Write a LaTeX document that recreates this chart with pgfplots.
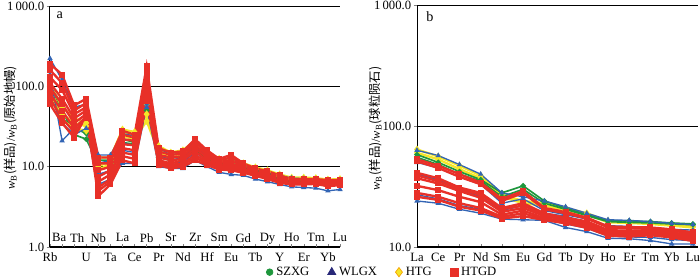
\documentclass[border=0pt]{standalone}
\usepackage{pgfplots}
\usepackage{pgfplotstable}
\pgfplotsset{compat=1.18}
\usepackage{fontspec}
\setmainfont{Liberation Serif}
\newfontfamily\cjk{Noto Sans CJK SC}
\definecolor{szxg}{RGB}{30,150,60}
\definecolor{wlgx}{RGB}{50,100,180}
\definecolor{navy}{RGB}{40,40,120}
\definecolor{htg}{RGB}{245,230,40}
\definecolor{htgedge}{RGB}{245,160,0}
\definecolor{htgd}{RGB}{232,48,40}

\pgfplotstableread{
x R1 R2 R3 R4 R5 R6 R7 R8 B1 B2 B3 B4 G1 G2 Y1 Y2 Y3
0 190 160 130 110 95 80 70 60 222 140 100 75 85 100 110 90 75
1 140 110 90 70 60 50 40 35 120 21 60 35 40 50 55 45 38
2 58 50 45 40 35 30 27 23 55 30 35 25 30 25 40 35 30
3 70 62 55 50 45 42 40 43 60 40 45 30 26 22 35 32 28
4 13 11 9 7.5 6.5 5.5 5 4.3 14 11 8 6 12 11 13 10 9
5 13 11 10 9 8 7 6.5 6 14 12 9 7 12 11 13 12 11
6 28 25 22 19 17 15 13.5 12 26 20 16 11 22 20 29 26 24
7 25 23 21 18.5 16 14 12.5 11 24 18 15 11 20 19 27 24 22
8 177 150 130 110 95 85 75 65 75 60 70 55 60 50 60 45 37
9 17 15.5 14 13 12 11.5 11 10.5 17 14 12 10 14 13 18 16 15
10 15 14 13 12 11 10.5 10 9.5 14 12 11 9.5 13 12 15 14 13
11 15.5 14.5 13.5 12.5 12 11 10.5 10 15 13 11.5 9.5 13 12.5 16 15 14
12 22 20 18.5 17 15.5 14 13 12 21 18 15 12 17 16 21 19 18
13 16 15 14 13 12 11.5 11 10.5 15 13.5 12 10 13 12.5 15.5 14.5 14
14 12.5 12 11.5 11 10.5 10 9.5 9.2 12 11 10 8.5 11 10.5 12.5 12 11.5
15 14 13 12 11 10.5 10 9.5 9 12 11 10 8 12 11 12 11.5 11
16 11 10.5 10 9.7 9.3 9 8.7 8.4 10.5 10 9 7.8 10 9.5 11 10.5 10
17 9.5 9.2 9 8.7 8.4 8.2 8 7.7 9.5 9 8.2 7 9 8.7 9.8 9.5 9.2
18 8.8 8.5 8.2 8 7.7 7.5 7.3 7 8.6 8 7.4 6.5 8.2 8 9 8.7 8.5
19 7.8 7.5 7.3 7.1 6.9 6.7 6.5 6.3 7.8 7.2 6.7 6 7.4 7.2 8 7.7 7.5
20 7 6.9 6.7 6.5 6.4 6.2 6.1 6 7.2 6.8 6.2 5.6 6.8 6.6 7.3 7.1 6.9
21 7 6.9 6.7 6.5 6.4 6.2 6.1 6 7.1 6.7 6.2 5.5 6.8 6.6 7.3 7 6.8
22 7 6.9 6.7 6.5 6.4 6.3 6.2 6.1 7 6.6 6.1 5.4 6.8 6.6 7.2 7 6.8
23 6.8 6.6 6.4 6.2 6 5.9 5.8 5.7 6.6 6.2 5.8 5 6.5 6.3 6.9 6.7 6.5
24 6.8 6.7 6.6 6.4 6.3 6.1 6 5.9 6.8 6.4 6 5.2 6.6 6.4 7 6.8 6.6
}\tabA

\pgfplotstableread{
x Y1 Y2 G1 G2 B1 B2 B3 B4 B5 R1 R2 R3 R4 R5 R6 R7 R8
0 64 60 58 55 63 50 40 24 27 53 51 41 39 37 32 28 26
1 56 53 50 48 57 45 36 23 25 47 45 37 35 33.5 29.5 26 24.5
2 47 44 42 40 48 38 30 20.5 22 40 38 31 30 29 26 23 21.5
3 39 37 36 35 40 33 26 19 20.5 34 33 28 27 25.5 23.5 21 20
4 27 26 28 26 28 23 20 17 17.5 25 24 21 20.5 19.5 18.5 17.8 17.2
5 24 23 32 30 26 25 22 16.8 18 29 28 23 22 21 20 19 18
6 23 22 24 23 24 20 19 16.6 17 21 20.5 19 18.5 18 17.3 17 16.7
7 21 20 21 20.5 21.5 18.5 18 14.5 15.5 19.5 19 17.5 17.2 16.8 16.3 16 15.7
8 19 18.5 18.5 18.2 19 17 16 13.4 14.3 17.5 17.2 16.3 16 15.5 15 14.6 14.4
9 16.4 16 16.5 16.2 16.8 15 13.5 11.8 12.3 14.8 14.5 13.8 13.5 13.2 12.8 12.6 12.4
10 16.2 15.8 16.4 16 16.6 14.8 13.2 11.7 12.1 14.6 14.2 13.6 13.3 13 12.7 12.4 12.2
11 15.8 15.5 16.2 15.8 16.2 14.5 13 11.3 12 14.5 14.2 13.8 13.5 13.2 13 12.7 12.5
12 15.3 15 15.8 15.5 15.7 14 12.5 10.6 11.5 14 13.7 13.2 12.9 12.7 12.4 12.2 12
13 14.8 14.5 15.5 15.3 15.3 13.8 12.2 10.6 11.3 13.2 12.8 12.4 12.1 11.8 11.6 11.4 11.2
}\tabB

\pgfplotsset{
  redS/.style={color=htgd, line width=1.4pt, mark=square*, mark size=1.1pt, forget plot},
  blueS/.style={color=wlgx, line width=0.8pt, mark=triangle*, mark size=1.1pt, forget plot},
  greenS/.style={color=szxg, line width=1pt, mark=*, mark size=1.1pt, forget plot},
  yelS/.style={color=htg, line width=1.4pt, mark=diamond*, mark size=1.2pt, forget plot},
}

\begin{document}
\begin{tikzpicture}
\useasboundingbox (0,0) rectangle (420pt,168pt);
% left panel
\begin{axis}[
  scale only axis, ymode=log, clip=false,
  axis x line*=bottom, axis y line*=left,
  axis line style={line width=0.6pt, -},
  ymajorgrids, major grid style={black, line width=0.5pt},
  yminorticks=false, tick align=inside,
  major tick length=2pt,
  ytick style={xshift=-2pt},
  tick label style={font=\fontsize{7.6}{9}\selectfont},
  at={(30pt,19.8pt)}, anchor=south west,
  width=174pt, height=144.6pt,
  xmin=0, xmax=24, ymin=1, ymax=1000,
  ytick={1,10,100,1000}, yticklabels={1.0,10.0,100.0,1\,000.0},
  xtick={0,3,5,7,9,11,13,15,17,19,21,23},
  xticklabels={Rb,U,Ta,Ce,Pr,Nd,Hf,Eu,Tb,Y,Er,Yb},
  extra x ticks={1,2,4,6,8,10,12,14,16,18,20,22,24},
  extra x tick labels={\makebox[12pt][l]{Ba},\makebox[12pt][r]{Th},Nb,La,Pb,Sr,Zr,Sm,Gd,Dy,Ho,Tm,Lu},
  extra x tick style={grid=none, tick label style={yshift=11.8pt}},
  ylabel style={at={(axis description cs:-0.135,0.494)}, rotate=0, anchor=center, font=\fontsize{7.4}{8}\selectfont},
  ylabel={{\itshape w}\textsubscript{B}{\cjk(样品)}/{\itshape w}\textsubscript{B}{\cjk(原始地幔)}},
]
\pgfplotsinvokeforeach{G1,G2}{\addplot[greenS] table[x=x,y=#1]{\tabA};}
\pgfplotsinvokeforeach{Y1,Y2,Y3}{\addplot[yelS] table[x=x,y=#1]{\tabA};}
\pgfplotsinvokeforeach{B1,B2,B3,B4}{\addplot[blueS] table[x=x,y=#1]{\tabA};}
\pgfplotsinvokeforeach{R1,R2,R3,R4,R5,R6,R7,R8}{\addplot[redS] table[x=x,y=#1]{\tabA};}
\node[font=\fontsize{8.5}{10}\selectfont] at (axis description cs:0.034,0.963) {a};
\end{axis}
% right panel
\begin{axis}[
  scale only axis, ymode=log, clip=false,
  axis x line*=bottom, axis y line*=left,
  axis line style={line width=0.6pt, -},
  ymajorgrids, major grid style={black, line width=0.5pt},
  yminorticks=false, tick align=inside,
  major tick length=2pt,
  ytick style={xshift=-2pt},
  tick label style={font=\fontsize{7.6}{9}\selectfont},
  at={(250.2pt,19.8pt)}, anchor=south west,
  width=168.6pt, height=145.2pt,
  xmin=0, xmax=13.24, ymin=10, ymax=1000,
  ytick={10,100,1000}, yticklabels={10.0,100.0,1\,000.0},
  xtick={0,...,13},
  xticklabels={La,Ce,Pr,Nd,Sm,Eu,Gd,Tb,Dy,Ho,Er,Tm,Yb,Lu},
  ylabel style={at={(axis description cs:-0.146,0.49)}, rotate=0, anchor=center, font=\fontsize{7.4}{8}\selectfont},
  ylabel={{\itshape w}\textsubscript{B}{\cjk(样品)}/{\itshape w}\textsubscript{B}{\cjk(球粒陨石)}},
  legend style={at={(axis description cs:-0.121,-0.104)}, anchor=center,
    legend columns=4, draw=none, fill=none,
    font=\fontsize{7.6}{9}\selectfont,
    /tikz/every even column/.append style={column sep=9pt}},
]
\addlegendimage{only marks, mark=*, color=szxg, mark size=2pt}
\addlegendentry{SZXG}
\addlegendimage{only marks, mark=triangle*, color=navy, mark size=2.8pt}
\addlegendentry{WLGX}
\addlegendimage{only marks, mark=diamond*, mark options={fill=htg, draw=htgedge}, mark size=2.8pt}
\addlegendentry{HTG}
\addlegendimage{only marks, mark=square*, color=htgd, mark size=2.3pt}
\addlegendentry{HTGD}
\pgfplotsinvokeforeach{Y1,Y2}{\addplot[yelS] table[x=x,y=#1]{\tabB};}
\pgfplotsinvokeforeach{G1,G2}{\addplot[greenS] table[x=x,y=#1]{\tabB};}
\pgfplotsinvokeforeach{B1,B2,B3,B4,B5}{\addplot[blueS] table[x=x,y=#1]{\tabB};}
\pgfplotsinvokeforeach{R1,R2,R3,R4,R5,R6,R7,R8}{\addplot[redS] table[x=x,y=#1]{\tabB};}
\node[font=\fontsize{8.5}{10}\selectfont] at (axis description cs:0.046,0.951) {b};
\end{axis}
\end{tikzpicture}
\end{document}
